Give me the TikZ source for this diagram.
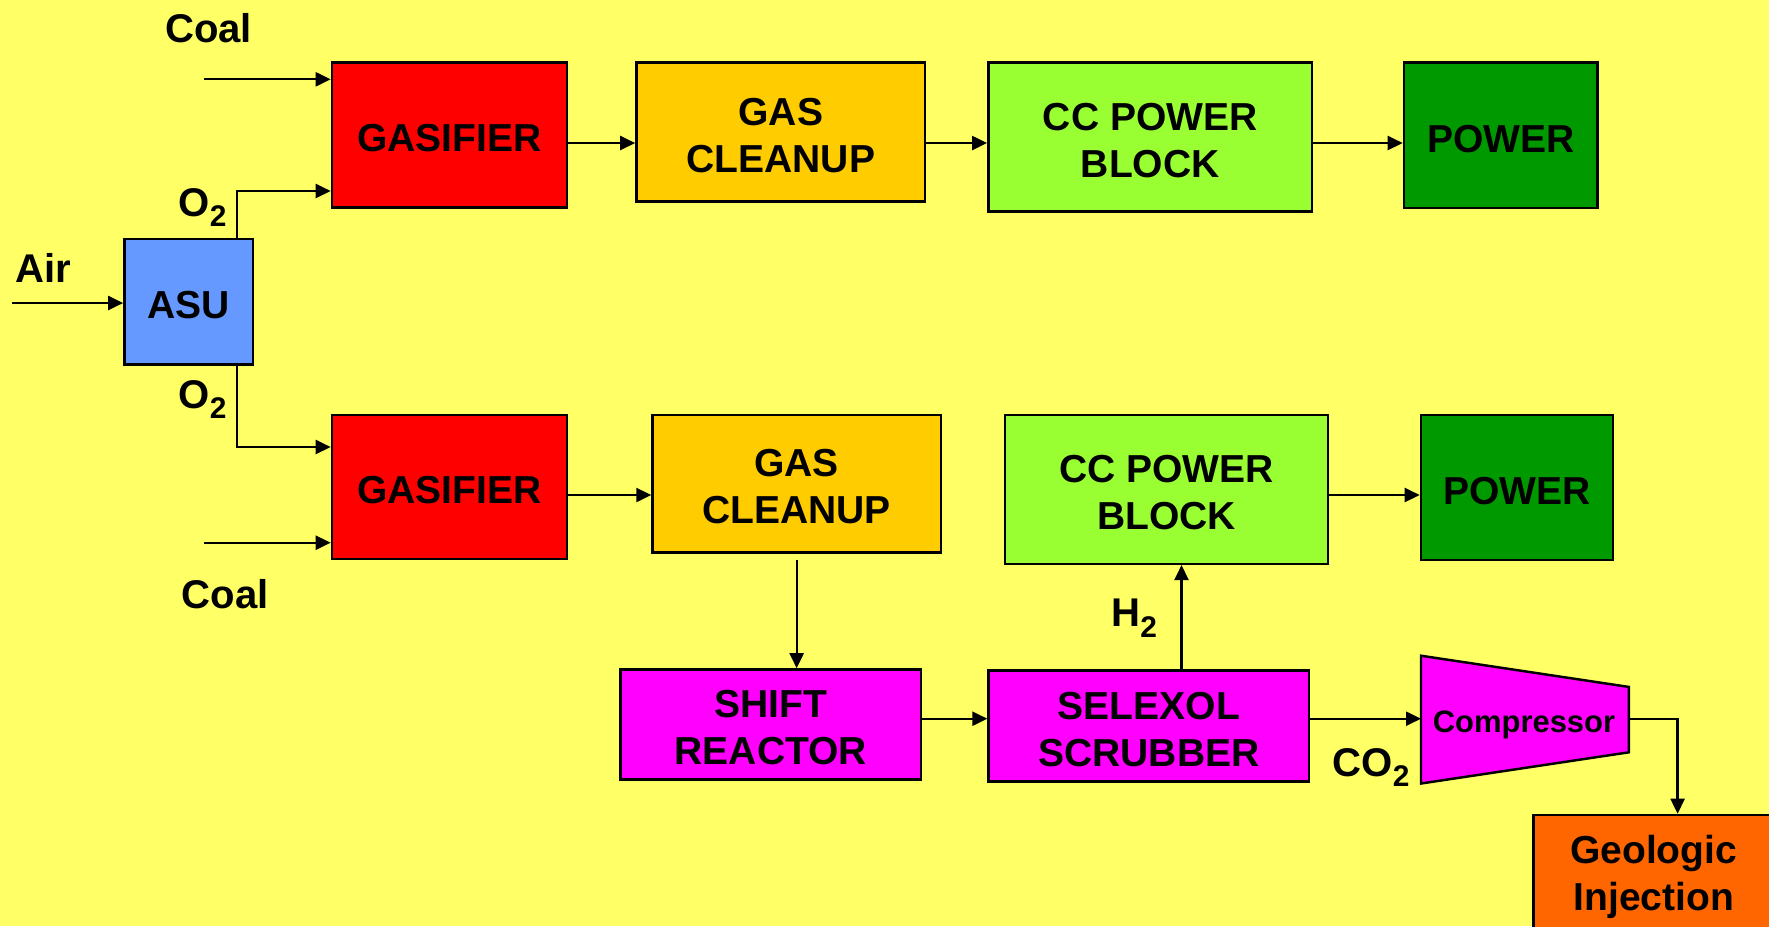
\documentclass[tikz,border=0pt]{standalone}
\usepackage{fontspec}
\setmainfont{Liberation Sans}
\usetikzlibrary{arrows.meta}
\definecolor{cBg}{HTML}{FFFF66}
\definecolor{cRed}{HTML}{FF0000}
\definecolor{cGold}{HTML}{FFCC00}
\definecolor{cLime}{HTML}{99FF33}
\definecolor{cGreen}{HTML}{009900}
\definecolor{cBlue}{HTML}{6699FF}
\definecolor{cMag}{HTML}{FF00FF}
\definecolor{cOrange}{HTML}{FF6600}
\newcommand\mysubtwo{\raisebox{-3pt}{\fontsize{8.5}{9}\selectfont 2}}
\newcommand\mystrut{\rule{0pt}{9.6pt}}
\begin{document}
\begin{tikzpicture}[x=0.01cm,y=-0.01cm,
  box/.style={draw=black, line width=0.7pt, inner sep=0pt, align=center,
    font=\fontsize{11.1}{13.4}\selectfont\bfseries},
  oneline/.style={text height=9.6pt},
  lbl/.style={inner sep=0pt, anchor=base west, font=\fontsize{11.4}{13.4}\selectfont\bfseries},
  arr/.style={line width=0.65pt, -{Triangle[length=0.15cm,width=0.14cm]}}]
\useasboundingbox (0,0) rectangle (1769,926);
\clip (0,0) rectangle (1769,926);
\fill[cBg] (0,0) rectangle (1769,926);

% boxes
\node[box, oneline, fill=cRed, minimum width=2.35cm, minimum height=1.446cm] (gas1) at (449.5,135) {GASIFIER};
\node[box, fill=cGold, minimum width=2.885cm, minimum height=1.386cm] (clean1) at (780.75,132) {\mystrut GAS\\CLEANUP};
\node[box, fill=cLime, minimum width=3.236cm, minimum height=1.486cm] (cc1) at (1150.2,137) {\mystrut CC POWER\\BLOCK};
\node[box, oneline, fill=cGreen, minimum width=1.935cm, minimum height=1.453cm] (pow1) at (1500.75,135.3) {POWER};
\node[box, oneline, fill=cBlue, minimum width=1.286cm, minimum height=1.253cm] (asu) at (188.7,301.7) {ASU};
\node[box, oneline, fill=cRed, minimum width=2.35cm, minimum height=1.437cm] (gas2) at (449.5,486.9) {GASIFIER};
\node[box, fill=cGold, minimum width=2.881cm, minimum height=1.373cm] (clean2) at (796.65,483.7) {\mystrut GAS\\CLEANUP};
\node[box, fill=cLime, minimum width=3.225cm, minimum height=1.487cm] (cc2) at (1166.5,489.4) {\mystrut CC POWER\\BLOCK};
\node[box, oneline, fill=cGreen, minimum width=1.92cm, minimum height=1.447cm] (pow2) at (1517,487.4) {POWER};
\node[box, fill=cMag, minimum width=3.005cm, minimum height=1.10cm] (shift) at (770.75,724.5) {\mystrut SHIFT\\REACTOR};
\node[box, fill=cMag, minimum width=3.203cm, minimum height=1.11cm] (selex) at (1148.85,726) {\mystrut SELEXOL\\SCRUBBER};
\draw[line width=0.7pt, fill=cMag] (1421,655.7) coordinate (cpA) -- (1628.8,686.9) coordinate (cpB)
  -- (1628.8,752.3) coordinate (cpC) -- (1421,783.5) coordinate (cpD) -- cycle;
\node[inner sep=0pt, anchor=base, font=\fontsize{8.8}{10}\selectfont\bfseries] (comp) at (1524,732) {Compressor};
\node[box, fill=cOrange, minimum width=2.404cm, minimum height=1.18cm] (geo) at (1653.7,874) {\mystrut Geologic\\Injection};

% labels
\node[lbl] (coalT) at (164.5,42) {Coal};
\node[lbl] (o2T) at (178,216) {O\mysubtwo};
\node[lbl] (air) at (15,282) {Air};
\node[lbl] (o2B) at (178,408) {O\mysubtwo};
\node[lbl] (coalB) at (181,608) {Coal};
\node[lbl] (h2) at (1110.6,626.5) {H\mysubtwo};
\node[lbl] (co2) at (1332,776) {CO\mysubtwo};

% helper coordinates
\coordinate (r1) at (0,143);
\coordinate (r2) at (0,495);
\coordinate (r3) at (0,718.7);
\coordinate (h2x) at (1181.5,0);
\coordinate (gx) at (1677.6,0);
\coordinate (o2x) at (237,0);
\coordinate (o2a) at (0,191);
\coordinate (o2b) at (0,447);
\coordinate (airS) at (12,303);
\coordinate (coal1S) at (204,79.3);
\coordinate (coal2S) at (204,542.7);

% connectors
\draw[arr] (gas1.east |- r1) -- (clean1.west |- r1);
\draw[arr] (clean1.east |- r1) -- (cc1.west |- r1);
\draw[arr] (cc1.east |- r1) -- (pow1.west |- r1);
\draw[arr] (gas2.east |- r2) -- (clean2.west |- r2);
\draw[arr] (cc2.east |- r2) -- (pow2.west |- r2);
\draw[arr, shorten <=0.06cm] (clean2.south) -- (clean2.south |- shift.north);
\draw[arr] (shift.east |- r3) -- (selex.west |- r3);
\draw[arr] (selex.east |- r3) -- (cpA |- r3);
\draw[arr] (selex.north -| h2x) -- (cc2.south -| h2x);
\draw[arr] (cpB |- r3) -| (geo.north -| gx);
\draw[arr] (airS) -- (asu.west |- airS);
\draw[arr] (coal1S) -- (gas1.west |- coal1S);
\draw[arr] (coal2S) -- (gas2.west |- coal2S);
\draw[arr] (asu.north -| o2x) |- (gas1.west |- o2a);
\draw[arr] (asu.south -| o2x) |- (gas2.west |- o2b);
\end{tikzpicture}
\end{document}
